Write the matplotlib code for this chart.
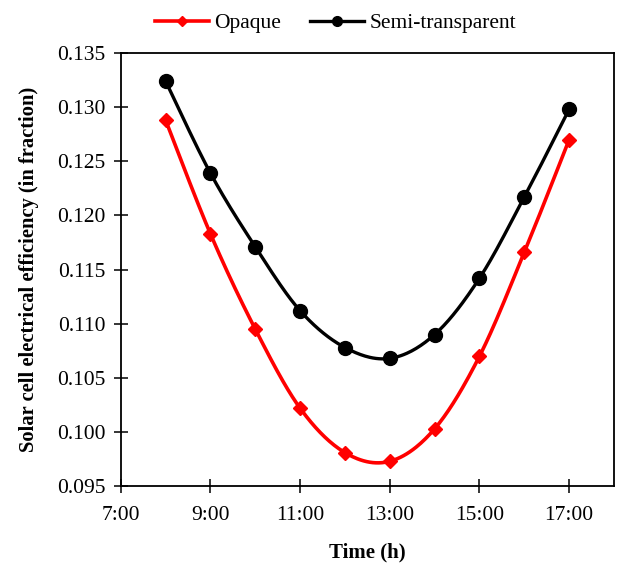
import numpy as np
import matplotlib
matplotlib.use('Agg')
import matplotlib.pyplot as plt

plt.rcParams['font.family'] = ['Liberation Serif', 'DejaVu Serif']
plt.rcParams['font.size'] = 15.5

# hourly readings, 8:00 to 17:00
hours = [8, 9, 10, 11, 12, 13, 14, 15, 16, 17]
eff_opaque = [0.1288, 0.1183, 0.1095, 0.1022, 0.0981, 0.0973, 0.1003, 0.1070, 0.1166, 0.1270]
eff_semi = [0.1324, 0.1239, 0.1171, 0.1112, 0.1078, 0.1068, 0.1090, 0.1142, 0.1217, 0.1298]
xtick_hours = [7, 9, 11, 13, 15, 17]
xtick_labels = ['7:00', '9:00', '11:00', '13:00', '15:00', '17:00']


def smooth(x, y, n=30):
    # cubic bezier through every point (catmull-rom style), like a spreadsheet smoothed line
    x = np.asarray(x, float)
    y = np.asarray(y, float)
    px = np.concatenate([[x[0]], x, [x[-1]]])
    py = np.concatenate([[y[0]], y, [y[-1]]])
    xs, ys = [], []
    t = np.linspace(0, 1, n)
    for i in range(1, len(px) - 2):
        p0 = np.array([px[i], py[i]])
        p3 = np.array([px[i + 1], py[i + 1]])
        p1 = p0 + (np.array([px[i + 1], py[i + 1]]) - np.array([px[i - 1], py[i - 1]])) / 6
        p2 = p3 - (np.array([px[i + 2], py[i + 2]]) - np.array([px[i], py[i]])) / 6
        b = ((1 - t) ** 3)[:, None] * p0 + (3 * (1 - t) ** 2 * t)[:, None] * p1 \
            + (3 * (1 - t) * t ** 2)[:, None] * p2 + (t ** 3)[:, None] * p3
        xs.extend(b[:, 0])
        ys.extend(b[:, 1])
    return xs, ys


fig = plt.figure(figsize=(6.19, 5.68), dpi=100)
ax = fig.add_axes([0.195, 0.144, 0.797, 0.763])

sx, sy = smooth(hours, eff_opaque)
ax.plot(sx, sy, color='#ff0000', lw=2.6)
ax.plot(hours, eff_opaque, 'D', color='#ff0000', ms=7, ls='none')
sx, sy = smooth(hours, eff_semi)
ax.plot(sx, sy, color='black', lw=2.4)
ax.plot(hours, eff_semi, 'o', color='black', ms=10, ls='none')

# legend handles
ax.plot([], [], color='#ff0000', lw=2.6, marker='D', ms=5, label='Opaque')
ax.plot([], [], color='black', lw=2.4, marker='o', ms=7, label='Semi-transparent')
handles, labels = ax.get_legend_handles_labels()
ax.legend(handles, labels, loc='lower center', bbox_to_anchor=(0.435, 1.0), ncol=2,
          frameon=False, handlelength=2.5, handletextpad=0.25, columnspacing=1.35,
          borderaxespad=0.5, fontsize=15.5)

ax.set_xlim(7, 18)
ax.set_ylim(0.095, 0.135)
ax.set_xticks(xtick_hours)
ax.set_xticklabels(xtick_labels)
ax.set_yticks(np.arange(0.095, 0.1351, 0.005))
ax.set_yticklabels(['%.3f' % v for v in np.arange(0.095, 0.1351, 0.005)])
ax.tick_params(direction='inout', length=10, width=1.1, labelsize=15.5)
ax.tick_params(axis='x', pad=9)
ax.tick_params(axis='y', pad=6)

for s in ax.spines.values():
    s.set_linewidth(1.3)

ax.set_xlabel('Time (h)', fontweight='bold', fontsize=15, labelpad=13)
ax.set_ylabel('Solar cell electrical efficiency (in fraction)', fontweight='bold', fontsize=14.8, labelpad=13)

fig.savefig('out.png', dpi=100)
